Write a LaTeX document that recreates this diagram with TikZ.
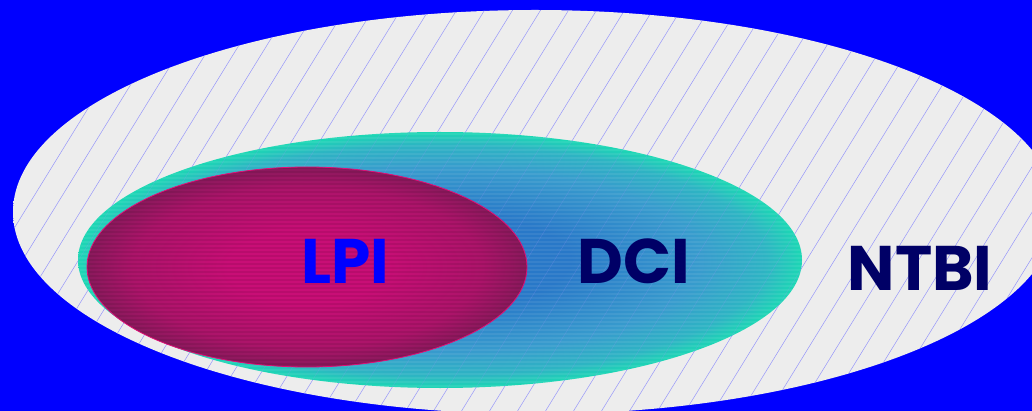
\documentclass[tikz,border=0pt]{standalone}
\usepackage{fontspec}
\setmainfont{Poppins}
\definecolor{bgblue}{RGB}{0,0,255}
\definecolor{navy}{RGB}{0,0,102}
\definecolor{hatchc}{RGB}{150,150,250}
\definecolor{tA}{RGB}{40,120,200}
\definecolor{tB}{RGB}{55,155,205}
\definecolor{tC}{RGB}{45,180,195}
\definecolor{tD}{RGB}{28,215,180}
\definecolor{mA}{RGB}{200,14,118}
\definecolor{mB}{RGB}{172,20,106}
\definecolor{mC}{RGB}{138,25,92}
\definecolor{mEdge}{RGB}{225,15,120}
\pgfdeclareradialshading{tealsh}{\pgfpoint{0bp}{0bp}}{color(0bp)=(tA); color(9bp)=(tA); color(18bp)=(tB); color(22.5bp)=(tC); color(25bp)=(tD); color(50bp)=(tD)}
\pgfdeclareradialshading{magsh}{\pgfpoint{0bp}{0bp}}{color(0bp)=(mA); color(9bp)=(mA); color(20bp)=(mB); color(25bp)=(mC); color(50bp)=(mC)}
\tikzset{
  hatchline/.style={draw=hatchc, line width=0.5pt},
  lbl/.style={font=\fontsize{63}{66}\selectfont\bfseries, inner sep=0pt},
}
\begin{document}
\begin{tikzpicture}[x=1pt,y=-1pt]
\fill[bgblue] (0,0) rectangle (1032,411);
\useasboundingbox (0,0) rectangle (1032,411);
\begin{scope}
\clip (0,0) rectangle (1032,411);
% outer ellipse (NTBI)
\path (535,212) coordinate (outerc);
\shade[left color=black!7, middle color=black!0.5, right color=black!7] (outerc) ellipse [x radius=522, y radius=202];
\begin{scope}
\clip (outerc) ellipse [x radius=522, y radius=202];
\foreach \i in {-300,-272,...,1300} \draw[hatchline] (\i,420) -- ++(265,-430);
\end{scope}
% teal ellipse (DCI)
\path (440,260) coordinate (tealc);
\shade[shading=tealsh] (tealc) ellipse [x radius=362, y radius=128];
\begin{scope}
\clip (tealc) ellipse [x radius=362, y radius=128];
\foreach \j in {134,138,...,390} \draw[white, opacity=0.07, line width=1.5pt] (70,\j) -- (810,\j);
\foreach \i in {-300,-272,...,1300} \draw[hatchline, opacity=0.25] (\i,420) -- ++(265,-430);
\end{scope}
% magenta ellipse (LPI)
\path (307,267) coordinate (magc);
\shade[shading=magsh] (magc) ellipse [x radius=220, y radius=100];
\begin{scope}
\clip (magc) ellipse [x radius=220, y radius=100];
\foreach \j in {168,172,...,368} \draw[black, opacity=0.08, line width=1.2pt] (80,\j) -- (530,\j);
\end{scope}
\draw[mEdge, line width=0.8pt] (magc) ellipse [x radius=220, y radius=100];
\end{scope}
\node[lbl, text=bgblue] (lpi) at (345,261) {LPI};
\node[lbl, text=navy] (dci) at (634,261) {DCI};
\node[lbl, text=navy] (ntbi) at (920,268) {NTBI};
\end{tikzpicture}
\end{document}
